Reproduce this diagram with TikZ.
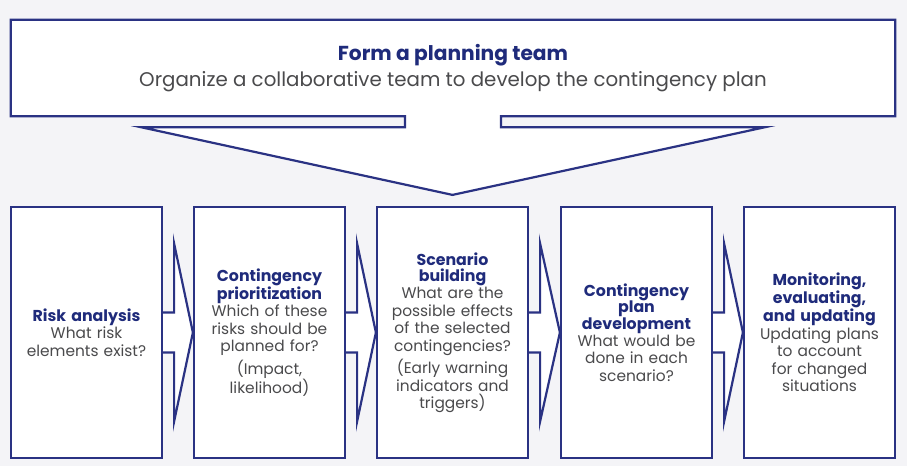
\documentclass[tikz,border=0pt]{standalone}
\usepackage{fontspec}
\setmainfont{Poppins}
\usetikzlibrary{calc,backgrounds}
\definecolor{navy}{HTML}{2A3283}
\definecolor{titleblue}{HTML}{1F2B7B}
\definecolor{bodygray}{HTML}{4A4A4C}
\definecolor{pagebg}{HTML}{F4F4F7}
% bold heading line(s) at the top of a step
\newcommand{\heading}[1]{{\color{titleblue}\bfseries\fontsize{15.8}{16.5}\selectfont #1\par}}
\begin{document}
\begin{tikzpicture}[x=1pt,y=-1pt,
  outline/.style={draw=navy,line width=2.2pt,fill=white,line join=miter},
  stepbox/.style={outline,minimum width=151pt,minimum height=251pt,inner sep=0pt,
    text width=148pt,align=center,text=bodygray,font=\fontsize{15.4}{17.4}\selectfont},
  chevron/.style={outline}
]
\useasboundingbox (0,0) rectangle (907,466);

% planning team banner text
\node[minimum width=884pt,minimum height=96pt,inner sep=0pt,align=center,
      font=\fontsize{19.8}{26}\selectfont] (team) at (453,68)
  {{\color{titleblue}\bfseries\fontsize{20.2}{26}\selectfont Form a planning team}\\
   {\color{bodygray}Organize a collaborative team to develop the contingency plan}};

% the five steps
\node[stepbox] (b1) at (86.5,332.5) {\heading{Risk analysis}What risk\\elements exist?};
\node[stepbox] (b2) at (269.5,332.5) {\heading{Contingency\\prioritization}Which of these\\risks should be\\planned for?\\[3pt](Impact,\\likelihood)};
\node[stepbox] (b3) at (452.5,332.5) {\heading{Scenario\\building}What are the\\possible effects\\of the selected\\contingencies?\\[3pt](Early warning\\indicators and\\triggers)};
\node[stepbox] (b4) at (636.5,332.5) {\heading{Contingency\\plan\\development}What would be\\done in each\\scenario?};
\node[stepbox] (b5) at (819.5,332.5) {\heading{Monitoring,\\evaluating,\\and updating}Updating plans\\to account\\for changed\\situations};

\coordinate (tip) at ($(b3.north)+(0,-11)$);

\begin{scope}[on background layer]
  \fill[pagebg] (0,0) rectangle (907,466);
  % banner merged with the downward arrow
  \draw[outline] (team.north west) -- (team.north east) -- (team.south east)
    -- ($(team.south)+(48,0)$) -- ++(0,11) -- ++(264,0) -- (tip)
    -- ($(team.south)+(-312,11)$) -- ++(264,0) -- ++(0,-11)
    -- (team.south west) -- cycle;
  % chevrons linking consecutive steps
  \foreach \a/\b in {b1/b2,b2/b3,b3/b4,b4/b5}{
    \draw[chevron] ($(\a.east)+(0,-20)$) -- ++(11,0) -- ++(0,-69)
      -- (\b.west) -- ($(\a.east)+(11,89)$) -- ++(0,-69) -- ++(-11,0);
  }
\end{scope}
\end{tikzpicture}
\end{document}
